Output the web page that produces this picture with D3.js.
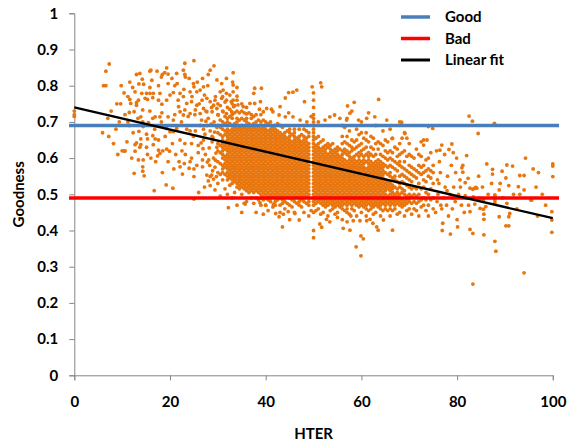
<!DOCTYPE html>
<html>
<head>
<meta charset="utf-8">
<script src="https://cdn.jsdelivr.net/npm/d3@7/dist/d3.min.js"></script>
<style>
body{margin:0;background:#fff;}
text{font-family:Lato,"Open Sans",sans-serif;font-weight:bold;fill:#000;}
</style>
</head>
<body>
<svg id="chart" width="574" height="441"></svg>
<script>
// axis ticks
var xTicks=[0,20,40,60,80,100];
var yTicks=[0,0.1,0.2,0.3,0.4,0.5,0.6,0.7,0.8,0.9,1];

// reference lines (goodness levels) and the fit, drawn over hter range
var goodLevel=0.69;
var badLevel=0.49;
var refSpan=[-1.1,101.3];
var fitHter=[0,100];
var fitGoodness=[0.74,0.434];

var legendNames=['Good','Bad','Linear fit'];
var legendColors=['#4a7ebb','#ff0000','#000000'];

// goodness is written x100 in both lists below
// scattered points [hter, goodness]
var loosePoints=[
  [0,72],[0,73],[0,71.5],[5.9,67],[6.1,80],[6.6,80],[6.6,84],[7.2,66],[7.3,86],[7,71],[7.7,73],[8.7,68],[9.1,61],[9.7,75],[10,62],[10.4,78],[10.6,62],
  [13,83.1],[13.7,83.4],[15.8,84],[16,84.3],[17.3,84],[18.2,82.4],[19.3,84.9],[18.9,83.6],[19.6,83.2],[18.4,83.1],[14.2,81.8],[14.5,80.4],[15.8,79.5],[15.1,77.9],[14.1,77.9],
  [11.6,81],[11.2,77],[11.6,76.2],[11.8,75.1],[13,75.3],[13.4,76],[12.7,78.3],[14.8,76.5],[15.3,76.2],[15.8,77.9],[16.5,77.9],[11.5,72.6],[12.5,72.8],[13,74.6],[14.3,73.3],
  [13.9,71.4],[14.3,70],[14.4,68.7],[15.5,69.8],[15.8,73],[16.4,71],[16.9,71.4],[17.9,71.4],[18.3,72.5],[16.4,76.7],[17.9,77.9],[18.3,74.9],[17.6,76],
  [13.5,67.4],[13.9,65.3],[13.9,63.7],[13,64.2],[15.1,66.6],[15.3,65.3],[16.4,66.2],[16.9,65.3],[17.6,65],[16.5,63.7],[12.7,63.7],[12.7,61.9],[13.7,63],[15.1,63],
  [10.5,61.9],[13.4,59.5],[14.4,59.5],[14.3,57.6],[17.6,62.2],[17.9,61.3],[17.4,60.6],[18.5,62],[19.3,62.5],[19.9,61.9],[19.3,68.2],[20,67.3],[20.7,67.3],[21.4,68.2],[20.7,70.5],[19.6,71.4],
  [19.6,80.6],[20,77.4],[19.3,76],[20.7,78.1],[21,80],[21.5,80.6],[21.4,83.4],[23.1,83.1],[23.2,82.4],[22.8,84.3],[23.1,86.2],[25,86.9],
  [22.1,77.9],[22.8,77],[24.2,78.3],[24.9,80.6],[25,79.7],[25.6,78.3],[26.3,78.8],[27,79.7],[27.2,77.4],[23.5,75.1],[24.5,75.6],[25.6,74.6],[26.7,76],[27.7,76.5],[28.4,75.6],[29.4,76],[29.1,74.6],[29.8,73.7],
  [21.8,74.2],[22.1,72.8],[22.8,71.9],[23.1,73.3],[24.2,72.3],[25.3,73.3],[26.3,72.3],[27,73.7],[27.7,72.8],[28.8,72.8],[30.1,71.9],[31.1,72.8],[31.8,72.3],[32.9,72.8],
  [28.4,84.3],[29.2,85.5],[28,83.1],[29.8,81.6],[30.8,80.6],[31.8,82],[33.2,83.6],[33.1,81],[30.5,78.3],[31.1,78.8],[31.8,77.9],[32.5,77.4],[33.2,78.3],[30.8,76.5],[31.8,76],[33.2,76],
  [23.5,68],[24.2,67.5],[25.3,67.5],[24.9,66],[26.3,69],[27,68],[27.7,69],[28.4,67.5],[28.8,66],[29.8,68.5],[22.1,65],[23.1,64],[24.5,64],[25.9,63.5],[27,65],[28.8,64.5],[29.8,63],
  [22.5,62],[23.2,61],[24.5,60],[25.9,61.5],[27.4,61],[28.1,59.5],[29.1,60],[21.9,59],[23,58.5],[24.2,59],[25.6,58],[26.8,59.5],[28.3,58],[29.4,57.5],[20.5,64],[21.2,61],[20.8,57],
  [19.6,59],[18.4,56],[17,59],[16,60],[15.3,61],[12,60],[11,64.5],[12.3,67],[11.5,69],[10.6,72],[9.4,70],[8.2,64],[8.9,75],[9.8,80],[11.2,70],[13.3,71],[16.8,68],[18.2,70],[19,66],
  [21,72],[22.4,70],[23.8,71.5],[25.2,72],[26.6,70.5],[28,71],[29.2,70],[21.7,76],[22.9,79],[24.6,77],[26.1,75],[27.5,73],[28.7,74],[29.5,77],[26.8,82],[27.9,80],[24,82],[25.7,81],
  [20.4,82],[17.6,80],[16.2,81.5],[12.2,79.5],[13.5,80.5],[12.5,55.8],[14.3,56.4],[14.6,55.1],[16.7,51],[19.2,52.6],[20.6,51.7],[22.1,57.6],[22.6,55.6],[24,57.2],[25,57],[25,54.9],[26.8,57.6],[25,48.7],
  [27.7,55.3],[28.4,54.9],[28.7,55.3],[29.7,54.9],[28,53.7],[29.1,54.2],[29.4,51.2],[28.4,52.4],[27.2,52],[26,50.5],[32.2,46.3],
  [26.5,64.2],[27.3,66.6],[28.2,62.8],[29,65.6],[29.6,61.4],[27.8,58.9],[28.9,56.5],[29.5,59.4],[26.9,62.6],[28.6,69.4],[29.3,67.2],[27.5,70.2],
  [33.2,80.2],[34,79.5],[34,77.1],[32.8,75.6],[33.3,74.2],[34.2,74.7],[35.3,74.2],[36,72.2],[36.7,75.1],[37.7,75.1],[37.5,77.9],[37.7,79.3],[39.1,79.3],[38.9,75.6],[38.7,73.5],[39.5,72.8],
  [40.2,73.7],[41.2,73.5],[41.5,72.8],[43,74.2],[42.8,71.9],[44.1,76.6],[44.8,78.1],[45.7,78.2],[46.5,78.8],[48.1,75.6],[49.7,79.7],[51.5,80.8],[51.7,79.7],[44.1,71.4],[44.8,72.5],[45.7,71.4],
  [47.2,70.5],[48.6,70],[51,70],[52.4,70.5],[53.4,71.4],[54.4,71.9],[55.5,71],[57.1,74.4],[58.5,75.4],[57.6,72.4],[56.9,70.5],[59.4,70.5],[61.1,71],[62.8,71.4],[63.6,76.2],[65.3,70.5],[66.4,65.4],
  [35.7,47.3],[42.1,44.7],[42.8,43.8],[43.7,44.5],[44.7,45.2],[43.5,41],[46.1,44.7],[47,42.9],[38.8,47.7],[40,47],[41.6,47.3],[51.3,41.8],[51.7,40.9],[52.7,43.1],[53.4,42.4],[55,43.6],
  [56.2,40.6],[57.6,40.1],[57,42.4],[57.8,44],[58.3,42.7],[59.7,42.7],[61.1,42.7],[58.9,35.5],[59.9,33],[59.9,38.5],[60.4,37.7],[61.8,43.1],[62.4,42],[63.2,41],[63.5,40.1],[64.6,42.9],[66.5,40.1],
  [68.4,69.9],[69.1,66.8],[73,63.6],[73.7,65],[74,68.7],[74.9,68.2],
  [76.8,63.6],[78.9,63.9],[76.4,62.2],[78.3,62.4],[79.2,61.5],[79.9,60],[82,60.7],[81,57.3],[81.2,56.1],[82.3,54.4],[81.7,53.2],[82.7,51.7],[83.7,51.7],[86.2,58.4],[87.4,56.9],[87.4,55.6],
  [89.4,56.4],[90.4,58.1],[91.6,57.8],[90.2,54.5],[87.2,53],[88.8,51.2],[87.9,49.5],[90.8,52.4],[92.8,52.1],[93.1,55.2],[94,55.2],[94,51.2],[94.3,60],[95.6,48.4],[100,58.4],[100,57.8],[100,54.9],
  [90.4,47.5],[81.7,49.6],[83.4,49.3],[84.8,48.9],[85.5,48.4],[84.1,51.7],[83.9,51.9],[83.3,51.4],[87.9,49.8],[87.9,48.4],[87.9,47.7],[86,46.6],[85.5,45.9],[84.8,46.1],[83.7,47.3],[85.6,44.5],
  [85.6,43.1],[88.8,43.8],[91,44.7],[90.8,43.8],[90.2,41.3],[90.8,41.3],[82.7,45.2],[82.7,40.3],[83.3,39.2],[85.6,38.8],[87.9,37],[88.1,34.3],[99.8,45.2],[99.8,42.9],[99.8,39.5],[94,28.3],[83.3,25.2],
  [82.5,71.6],[83.2,70.2],[84.4,66.8],[87.8,69.6],[93.1,50],[95.4,48.4],
  [75.5,45],[75.8,48],[76,50],[76.2,53],[76.5,56],[76.8,46],[77,42],[77.2,49],[77.5,52],[77.8,47],[78,55],[78.2,44],[78.5,50],[78.8,58],[79,46],[79.3,52],[79.6,48],[80,43],[80.3,50],[80.6,54],
  [80.9,47],[81.2,58],[81.5,45],[76.3,59],[77.4,61],[75.7,62],[76.9,40],[78.6,39],[80.1,41],[79.7,56],[77.9,51],[75.9,54],[76.6,47],[79.1,49],[80.7,52],[81.9,49],[82.4,47],[84.5,55],[85.3,52],
  [86.5,50],[89.5,49],[91.8,50],[92.5,46],[96.5,52],[97.8,50],[98.5,47],[97,56],[95.9,57],[96.8,44],[89,53]
];

// dense part: [hter, goodness values seen at that hter]
var densePoints=[
  [30,[53,56,59,62,64,67,69,72,75]],
  [30.5,[49.5,55.5,58.5,61.5,63.5,66.5,68.5,70.5,74.5]],
  [31,[54,56,57,58,60,61,62,63,64,65,66,68,70,73,77]],
  [31.5,[51.5,55.5,57.5,58.5,59.5,60.5,62.5,63.5,64.5,66.5,67.5,69.5,71.5,75.5]],
  [32,[50,54,55,56,57,58,59,60,61,62,63,64,65,66,67,68,70,71,74]],
  [32.5,[52.5,54.5,55.5,56.5,57.5,58.5,59.5,60.5,61.5,62.5,63.5,64.5,65.5,66.5,67.5,69.5,71.5,73.5]],
  [33,[49,53,54,55,56,57,58,59,60,61,62,63,64,65,66,67,68,69,71,72,75]],
  [33.5,[50.5,53.5,54.5,55.5,56.5,57.5,58.5,59.5,60.5,61.5,62.5,63.5,64.5,65.5,66.5,67.5,68.5,69.5,72.5,74.5]],
  [34,[47,52,53,54,55,56,57,58,59,60,61,62,63,64,65,66,67,68,69,70,71,73,76]],
  [34.5,[51.5,52.5,53.5,54.5,55.5,56.5,57.5,58.5,59.5,60.5,61.5,62.5,63.5,64.5,65.5,66.5,67.5,68.5,70.5,72.5]],
  [35,[45,50,52,53,54,55,56,57,58,59,60,61,62,63,64,65,66,67,68,69,71,73,75]],
  [35.5,[47.5,51.5,52.5,53.5,54.5,55.5,56.5,57.5,58.5,59.5,60.5,61.5,62.5,63.5,64.5,65.5,66.5,67.5,68.5,70.5,72.5]],
  [36,[48,51,52,53,54,55,56,57,58,59,60,61,62,63,64,65,66,67,68,69,70,71,74]],
  [36.5,[50.5,51.5,52.5,53.5,54.5,55.5,56.5,57.5,58.5,59.5,60.5,61.5,62.5,63.5,64.5,65.5,66.5,67.5,68.5,69.5,72.5]],
  [37,[49,51,52,53,54,55,56,57,58,59,60,61,62,63,64,65,66,67,68,69,71,72]],
  [37.5,[47.5,50.5,51.5,52.5,53.5,54.5,55.5,56.5,57.5,58.5,59.5,60.5,61.5,62.5,63.5,64.5,65.5,66.5,67.5,68.5,69.5,71.5]],
  [38,[45,49,51,52,53,54,55,56,57,58,59,60,61,62,63,64,65,66,67,68,69,70,72]],
  [38.5,[48.5,50.5,51.5,52.5,53.5,54.5,55.5,56.5,57.5,58.5,59.5,60.5,61.5,62.5,63.5,64.5,65.5,66.5,67.5,68.5,70.5]],
  [39,[47,49,50,51,52,53,54,55,56,57,58,59,60,61,62,63,64,65,66,67,68,69,70,72]],
  [39.5,[44.5,48.5,49.5,50.5,51.5,52.5,53.5,54.5,55.5,56.5,57.5,58.5,59.5,60.5,61.5,62.5,63.5,64.5,65.5,66.5,67.5,68.5,70.5]],
  [40,[47,49,50,51,52,53,54,55,56,57,58,59,60,61,62,63,64,65,66,67,68,69,70]],
  [40.5,[45.5,48.5,49.5,50.5,51.5,52.5,53.5,54.5,55.5,56.5,57.5,58.5,59.5,60.5,61.5,62.5,63.5,64.5,65.5,66.5,67.5,69.5]],
  [41,[48,49,50,51,52,53,54,55,56,57,58,59,60,61,62,63,64,65,66,67,68,70]],
  [41.5,[46.5,49.5,50.5,51.5,52.5,53.5,54.5,55.5,56.5,57.5,58.5,59.5,60.5,61.5,62.5,63.5,64.5,65.5,66.5,67.5,68.5]],
  [42,[47,48,49,50,51,52,53,54,55,56,57,58,59,60,61,62,63,64,65,66,67,68,69]],
  [42.5,[48.5,49.5,50.5,51.5,52.5,53.5,54.5,55.5,56.5,57.5,58.5,59.5,60.5,61.5,62.5,63.5,64.5,65.5,66.5,67.5,69.5]],
  [43,[45,47,49,50,51,52,53,54,55,56,57,58,59,60,61,62,63,64,65,66,67,69]],
  [43.5,[47.5,48.5,49.5,50.5,51.5,52.5,53.5,54.5,55.5,56.5,57.5,58.5,59.5,60.5,61.5,62.5,63.5,64.5,65.5,66.5,68.5]],
  [44,[46,48,49,50,51,52,53,54,55,56,57,58,59,60,61,62,63,64,65,66,67]],
  [44.5,[47.5,49.5,50.5,51.5,52.5,53.5,54.5,55.5,56.5,57.5,58.5,59.5,60.5,61.5,62.5,63.5,64.5,65.5,67.5]],
  [45,[43,47,49,50,51,52,53,54,55,56,57,58,59,60,61,62,63,64,65,66,67,68]],
  [45.5,[46.5,48.5,49.5,50.5,51.5,52.5,53.5,54.5,55.5,56.5,57.5,58.5,59.5,60.5,61.5,62.5,63.5,64.5,66.5]],
  [46,[45,48,49,50,51,52,53,54,55,56,57,58,59,60,61,62,63,64,65,66,67,68]],
  [46.5,[47.5,49.5,50.5,51.5,52.5,53.5,54.5,55.5,56.5,57.5,58.5,59.5,60.5,61.5,62.5,63.5,64.5,65.5]],
  [47,[47,48,49,50,51,52,53,54,55,56,57,58,59,60,61,62,63,64,65,66,68]],
  [47.5,[46.5,48.5,49.5,50.5,51.5,52.5,53.5,54.5,55.5,56.5,57.5,58.5,59.5,60.5,61.5,62.5,63.5,64.5,66.5]],
  [48,[45,48,49,50,51,52,53,54,55,56,57,58,59,60,61,62,63,64,65,66,68]],
  [48.5,[47.5,49.5,50.5,51.5,52.5,53.5,54.5,55.5,56.5,57.5,58.5,59.5,60.5,61.5,62.5,63.5,64.5,65.5,67.5]],
  [49,[44,47,48,49,50,51,52,53,54,55,56,57,58,59,60,61,62,63,64,66,67]],
  [49.5,[45.5,71.5]],
  [50,[38,40,45,47,48,49,50,51,52,53,54,55,56,57,58,59,60,61,62,63,64,65,66,67,68,69,70,71,72,74,76,78]],
  [50.5,[45.5,47.5,48.5,49.5,50.5,51.5,52.5,53.5,54.5,55.5,56.5,57.5,58.5,59.5,60.5,61.5,62.5,63.5,65.5]],
  [51,[46,48,49,50,51,52,53,54,55,56,57,58,59,60,61,62,63,64,66]],
  [51.5,[44.5,47.5,48.5,49.5,50.5,51.5,52.5,53.5,54.5,55.5,56.5,57.5,58.5,59.5,60.5,61.5,62.5,64.5]],
  [52,[45,47,48,49,50,51,52,53,54,55,56,57,58,59,60,61,62,63,65]],
  [52.5,[46.5,47.5,48.5,49.5,50.5,51.5,52.5,53.5,54.5,55.5,56.5,57.5,58.5,59.5,60.5,61.5,62.5,63.5]],
  [53,[44,47,48,49,50,51,52,53,54,55,56,57,58,59,60,61,63,64]],
  [53.5,[45.5,47.5,48.5,49.5,50.5,51.5,52.5,53.5,54.5,55.5,56.5,57.5,58.5,59.5,60.5,61.5,62.5,63.5]],
  [54,[46,47,48,49,50,51,52,53,54,55,56,57,58,59,60,61,62,64]],
  [54.5,[44.5,46.5,47.5,48.5,49.5,50.5,51.5,52.5,53.5,54.5,55.5,56.5,57.5,58.5,59.5,60.5,61.5,62.5]],
  [55,[45,47,48,49,50,51,52,53,54,55,56,57,58,59,60,61,62,63]],
  [55.5,[46.5,47.5,48.5,49.5,50.5,51.5,52.5,53.5,54.5,55.5,56.5,57.5,58.5,59.5,60.5,62.5]],
  [56,[43,46,47,48,49,50,51,52,53,54,55,56,57,58,59,60,61,62,64,66,69]],
  [56.5,[45.5,47.5,48.5,49.5,50.5,51.5,52.5,53.5,54.5,55.5,56.5,57.5,58.5,59.5,61.5,62.5,64.5,68.5]],
  [57,[45,46,47,48,49,50,51,52,53,54,55,56,57,58,59,61,62,64,66,71]],
  [57.5,[44.5,47.5,48.5,49.5,50.5,51.5,52.5,53.5,54.5,55.5,56.5,57.5,58.5,59.5,60.5,61.5,63.5,67.5]],
  [58,[46,47,48,49,50,51,52,53,54,55,56,57,58,59,60,62,63,65,73]],
  [58.5,[45.5,47.5,48.5,49.5,50.5,51.5,52.5,53.5,54.5,55.5,56.5,57.5,58.5,59.5,60.5,62.5,64.5]],
  [59,[44,47,48,49,50,51,52,53,54,55,56,57,58,59,61,63,65,68]],
  [59.5,[46.5,47.5,48.5,49.5,50.5,51.5,52.5,53.5,54.5,55.5,56.5,57.5,58.5,59.5,60.5,61.5,63.5,66.5]],
  [60,[45,47,48,49,50,51,52,53,54,55,56,57,58,59,61,62,64,67,70]],
  [60.5,[46.5,47.5,48.5,49.5,50.5,51.5,52.5,53.5,54.5,55.5,56.5,57.5,58.5,59.5,60.5,62.5,65.5]],
  [61,[44,46,47,48,49,50,51,52,53,54,55,56,57,59,61,63,65,67]],
  [61.5,[45.5,47.5,48.5,49.5,50.5,51.5,52.5,53.5,54.5,55.5,56.5,57.5,58.5,59.5,60.5,61.5,64.5,72.5]],
  [62,[46,47,48,49,50,51,52,53,54,55,56,57,58,59,61,63,66]],
  [62.5,[44.5,46.5,47.5,48.5,49.5,50.5,51.5,52.5,53.5,54.5,55.5,56.5,57.5,58.5,60.5,62.5,65.5]],
  [63,[45,47,48,49,50,51,52,53,54,55,56,57,58,59,61,64,69]],
  [63.5,[46.5,47.5,48.5,49.5,50.5,51.5,52.5,53.5,54.5,55.5,56.5,57.5,58.5,59.5,62.5,64.5]],
  [64,[44,46,47,48,49,50,51,52,53,54,55,56,57,58,59,61,64]],
  [64.5,[45.5,47.5,48.5,49.5,50.5,51.5,52.5,53.5,54.5,55.5,56.5,57.5,58.5,60.5,63.5,67.5]],
  [65,[46,47,48,49,50,51,52,53,54,56,58,60,62,65]],
  [65.5,[45.5,47.5,48.5,49.5,51.5,52.5,53.5,55.5,57.5,59.5,61.5,64.5]],
  [66,[44,46,47,48,49,50,51,52,53,55,56,58,60,62,68]],
  [66.5,[45.5,47.5,48.5,49.5,50.5,51.5,52.5,54.5,57.5,59.5,61.5,65.5]],
  [67,[46,47,48,49,50,52,54,55,57,59,63]],
  [67.5,[44.5,47.5,48.5,49.5,50.5,51.5,53.5,56.5,58.5,60.5,62.5]],
  [68,[45,47,48,49,50,52,53,55,58,59,61,64,70]],
  [68.5,[46.5,47.5,48.5,50.5,51.5,53.5,55.5,57.5,61.5,65.5]],
  [69,[44,47,48,50,51,53,55,57,59,62,67]],
  [69.5,[45.5,47.5,48.5,49.5,52.5,54.5,56.5,60.5,65.5]],
  [70,[46,48,49,50,52,54,56,58,61,64]],
  [70.5,[44.5,47.5,49.5,51.5,53.5,55.5,57.5,60.5]],
  [71,[46,48,50,52,55,57,60]],
  [71.5,[45.5,47.5,49.5,51.5,54.5,56.5,62.5]],
  [72,[44,48,50,53,56,58,61]],
  [72.5,[46.5,48.5,51.5,55.5,57.5,60.5,64.5]],
  [73,[47,49,52,54,56,58,65]],
  [73.5,[45.5,48.5,50.5,53.5,56.5,59.5]],
  [74,[44,47,50,55,57,60]],
  [74.5,[48.5,51.5,54.5,56.5,61.5]],
  [75,[46,49,53,56,58]]
];

var svg=d3.select('#chart');
var plotLeft=74.3, plotRight=552.8, plotTop=13.3, plotBottom=375.3;

var x=d3.scaleLinear().domain([0,100]).range([plotLeft,plotRight]);
var y=d3.scaleLinear().domain([0,1]).range([plotBottom,plotTop]);

// flatten both point lists into one
var pts=loosePoints.map(function(p){return {h:p[0],g:p[1]/100};});
densePoints.forEach(function(col){
  col[1].forEach(function(v){pts.push({h:col[0],g:v/100});});
});

// axes
var yAxis=d3.axisLeft(y).tickValues(yTicks).tickSize(5).tickPadding(11)
  .tickFormat(function(d){return d3.format('.1~f')(d);});
var xAxis=d3.axisBottom(x).tickValues(xTicks).tickSize(5).tickPadding(16);

var gy=svg.append('g').attr('transform','translate('+plotLeft+',0)').call(yAxis);
var gx=svg.append('g').attr('transform','translate(0,'+plotBottom+')').call(xAxis);
[gx,gy].forEach(function(g){
  g.select('.domain').attr('stroke','#868686').attr('stroke-width',1);
  g.selectAll('.tick line').attr('stroke','#868686');
  g.selectAll('.tick text').attr('fill','#000').style('font-size','15px').style('font-family','Lato,"Open Sans",sans-serif').style('font-weight','bold');
});

// points
svg.append('g').selectAll('circle').data(pts).enter()
  .append('circle')
  .attr('cx',function(d){return x(d.h);})
  .attr('cy',function(d){return y(d.g);})
  .attr('r',1.9)
  .attr('fill','#e8760f');

// reference lines
var line=d3.line().x(function(d){return x(d[0]);}).y(function(d){return y(d[1]);});
svg.append('path').attr('d',line(refSpan.map(function(h){return [h,goodLevel];})))
  .attr('stroke',legendColors[0]).attr('stroke-width',3.5).attr('fill','none');
svg.append('path').attr('d',line(refSpan.map(function(h){return [h,badLevel];})))
  .attr('stroke',legendColors[1]).attr('stroke-width',3.5).attr('fill','none');
svg.append('path').attr('d',line(fitHter.map(function(h,i){return [h,fitGoodness[i]];})))
  .attr('stroke',legendColors[2]).attr('stroke-width',2.3).attr('fill','none');

// legend
var lg=svg.append('g');
legendNames.forEach(function(name,i){
  var ly=17+i*21.5;
  lg.append('line').attr('x1',401).attr('x2',430).attr('y1',ly).attr('y2',ly)
    .attr('stroke',legendColors[i]).attr('stroke-width',i==2?3:3.5);
  lg.append('text').attr('x',445).attr('y',ly).attr('dy','0.36em')
    .style('font-size','15px').text(name);
});

// axis titles
svg.append('text').attr('x',(plotLeft+plotRight)/2).attr('y',438.5).attr('text-anchor','middle')
  .style('font-size','15px').text('HTER');
svg.append('text').attr('transform','translate(24,'+((plotTop+plotBottom)/2)+') rotate(-90)')
  .attr('text-anchor','middle').style('font-size','15px').text('Goodness');
</script>
</body>
</html>
